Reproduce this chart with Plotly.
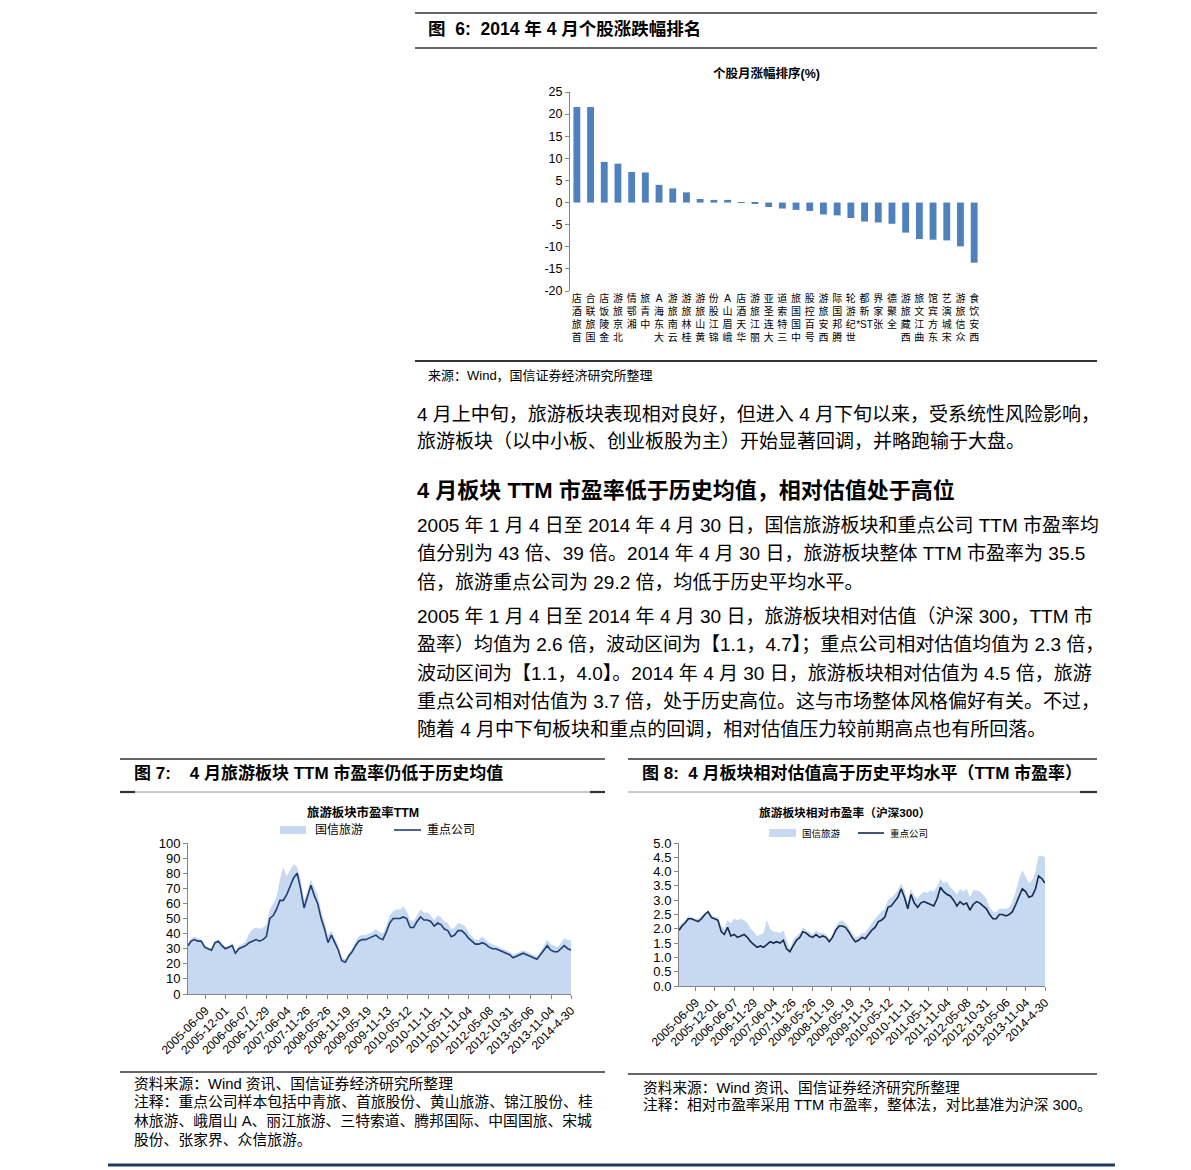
import re
import pandas as pd
import plotly.graph_objects as go

W, H = 1191, 1170
FONT = "Liberation Sans, Noto Sans CJK SC, sans-serif"


def fx(x):
    return x / W


def fy(y):
    return 1 - y / H


# ---------------- data: Figure 6 (bar) ----------------
stock_names = ["首旅酒店", "国旅联合", "金陵饭店", "北京旅游", "湘鄂情", "中青旅", "大东海A",
               "云南旅游", "桂林旅游", "黄山旅游", "锦江股份", "峨眉山A", "华天酒店", "丽江旅游",
               "大连圣亚", "三特索道", "中国国旅", "号百控股", "西安旅游", "腾邦国际", "世纪游轮",
               "*ST新都", "张家界", "全聚德", "西藏旅游", "曲江文旅", "东方宾馆", "宋城演艺",
               "众信旅游", "西安饮食"]
monthly_change = [21.6, 21.6, 9.2, 8.8, 6.9, 6.8, 4.0, 3.2, 2.3, 0.8, 0.6, 0.6, 0.05, -0.2,
                  -1.0, -1.35, -1.65, -1.9, -2.7, -2.9, -3.5, -4.3, -4.5, -4.8, -6.8, -8.25,
                  -8.4, -8.55, -9.9, -13.6]
bar_ticks = [25, 20, 15, 10, 5, 0, -5, -10, -15, -20]
bar_range = [-20, 25]

# ---------------- data: Figures 7 & 8 (time series) ----------------
dates = (["2005-01-04"]
         + [d.strftime("%Y-%m-%d") for d in pd.date_range("2005-02-01", "2014-04-01", freq="MS")]
         + ["2014-04-30"])

pe_sector = [34, 37, 38, 37, 36, 33, 31, 30, 35, 36, 34, 31,
             32, 34, 28, 32, 33, 35, 40, 43, 44, 43, 44, 46,
             56, 60, 64, 76, 84, 78, 82, 86, 84, 76, 62, 68,
             76, 70, 66, 55, 48, 39, 42, 37, 32, 24, 23, 27,
             30, 35, 38, 39, 39, 40, 41, 43, 41, 40, 45, 52,
             55, 56, 56, 58, 55, 49, 48, 52, 56, 54, 54, 52,
             49, 52, 51, 48, 47, 43, 44, 47, 46, 45, 41, 38,
             36, 36, 38, 36, 34, 33, 32, 31, 30, 29, 28, 26,
             27, 28, 29, 28, 27, 26, 25, 28, 32, 36, 33, 32,
             31, 34, 37, 36, 35.5]
pe_key = [32, 35, 36, 35, 35, 31, 30, 29, 34, 35, 32, 30,
          31, 32, 27, 30, 31, 32, 34, 35, 36, 35, 36, 38,
          50, 52, 56, 62, 62, 66, 72, 77, 80, 70, 57, 65,
          72, 65, 60, 50, 43, 34, 39, 34, 29, 22, 21, 25,
          28, 32, 35, 36, 36, 37, 38, 39, 37, 36, 41, 47,
          50, 50, 50, 51, 50, 44, 44, 48, 51, 49, 49, 48,
          45, 47, 46, 43, 42, 38, 39, 42, 42, 40, 37, 35,
          33, 33, 34, 33, 31, 30, 30, 29, 28, 27, 26, 24,
          25, 26, 27, 26, 25, 24, 23, 26, 29, 32, 29, 28,
          28, 30, 32, 30, 29.2]

rel_sector = [2.1, 2.2, 2.3, 2.45, 2.4, 2.35, 2.35, 2.45, 2.55, 2.65, 2.5, 2.4,
              2.4, 2.1, 2.0, 2.3, 2.2, 2.35, 2.3, 2.35, 2.3, 2.2, 2.0, 1.9,
              1.75, 1.8, 1.85, 2.3, 2.0, 1.9, 1.9, 1.85, 1.95, 1.6, 1.3, 1.6,
              1.75, 1.85, 2.05, 1.95, 1.9, 1.8, 1.95, 1.85, 1.85, 1.8, 1.65, 1.8,
              2.1, 2.25, 2.3, 2.2, 2.05, 1.85, 1.7, 1.75, 1.85, 1.85, 2.05, 2.2,
              2.35, 2.5, 2.6, 2.7, 3.0, 3.1, 3.2, 3.35, 3.6, 3.35, 2.95, 3.4,
              3.15, 3.05, 3.2, 3.3, 3.25, 3.35, 3.3, 3.5, 3.75, 3.6, 3.65, 3.45,
              3.35, 3.2, 3.4, 3.3, 3.4, 3.1, 3.35, 3.35, 3.3, 3.2, 3.05, 2.75,
              2.6, 2.6, 2.7, 2.7, 2.7, 2.75, 2.95, 3.3, 3.75, 4.05, 3.8, 3.6,
              3.7, 4.0, 4.55, 4.55, 4.5]
rel_key = [1.95, 2.1, 2.2, 2.35, 2.35, 2.3, 2.25, 2.35, 2.5, 2.6, 2.4, 2.35,
           2.3, 1.9, 1.8, 2.05, 1.75, 1.8, 1.7, 1.75, 1.8, 1.7, 1.55, 1.45,
           1.35, 1.4, 1.35, 1.45, 1.55, 1.5, 1.55, 1.5, 1.6, 1.3, 1.2, 1.4,
           1.6, 1.7, 1.9, 1.85, 1.75, 1.7, 1.8, 1.7, 1.75, 1.7, 1.55, 1.7,
           1.95, 2.1, 2.1, 2.05, 1.9, 1.7, 1.55, 1.6, 1.7, 1.65, 1.8, 1.95,
           2.05, 2.25, 2.3, 2.4, 2.75, 2.8, 2.95, 3.1, 3.4, 3.1, 2.7, 3.2,
           2.9, 2.75, 2.9, 2.95, 2.9, 2.85, 2.8, 3.05, 3.45, 3.3, 3.2, 3.15,
           3.0, 2.8, 2.95, 2.85, 2.9, 2.65, 2.85, 2.95, 2.9, 2.8, 2.7, 2.5,
           2.35, 2.35, 2.5, 2.5, 2.45, 2.5, 2.6, 2.85, 3.1, 3.4, 3.3, 3.1,
           3.15, 3.4, 3.85, 3.75, 3.6]

tick_dates = ["2005-06-09", "2005-12-01", "2006-06-07", "2006-11-29", "2007-06-04",
              "2007-11-26", "2008-05-26", "2008-11-19", "2009-05-19", "2009-11-13",
              "2010-05-12", "2010-11-11", "2011-05-11", "2011-11-04", "2012-05-08",
              "2012-10-31", "2013-05-06", "2013-11-04", "2014-04-30"]
tick_labels = tick_dates[:-1] + ["2014-4-30"]

series_names = ["国信旅游", "重点公司"]

# ---------------- text ----------------
para1 = ["4 月上中旬，旅游板块表现相对良好，但进入 4 月下旬以来，受系统性风险影响，",
         "旅游板块（以中小板、创业板股为主）开始显著回调，并略跑输于大盘。"]
heading = "4 月板块 TTM 市盈率低于历史均值，相对估值处于高位"
para2 = ["2005 年 1 月 4 日至 2014 年 4 月 30 日，国信旅游板块和重点公司 TTM 市盈率均",
         "值分别为 43 倍、39 倍。2014 年 4 月 30 日，旅游板块整体 TTM 市盈率为 35.5",
         "倍，旅游重点公司为 29.2 倍，均低于历史平均水平。"]
para3 = ["2005 年 1 月 4 日至 2014 年 4 月 30 日，旅游板块相对估值（沪深 300，TTM 市",
         "盈率）均值为 2.6 倍，波动区间为【1.1，4.7】；重点公司相对估值均值为 2.3 倍，",
         "波动区间为【1.1，4.0】。2014 年 4 月 30 日，旅游板块相对估值为 4.5 倍，旅游",
         "重点公司相对估值为 3.7 倍，处于历史高位。这与市场整体风格偏好有关。不过，",
         "随着 4 月中下旬板块和重点的回调，相对估值压力较前期高点也有所回落。"]
notes7 = ["资料来源：Wind 资讯、国信证券经济研究所整理",
          "注释：重点公司样本包括中青旅、首旅股份、黄山旅游、锦江股份、桂",
          "林旅游、峨眉山 A、丽江旅游、三特索道、腾邦国际、中国国旅、宋城",
          "股份、张家界、众信旅游。"]
notes8 = ["资料来源：Wind 资讯、国信证券经济研究所整理",
          "注释：相对市盈率采用 TTM 市盈率，整体法，对比基准为沪深 300。"]

BAR_BLUE = "#4f81bd"
AREA_BLUE = "#c6d9f1"
LINE7 = "#1f3f73"
LINE8 = "#142a4c"
AXIS = "#868686"


def stack(name):
    tokens = re.findall(r"[A-Za-z*]+|.", name)
    return "<br>".join(reversed(tokens))


fig = go.Figure()

fig.add_trace(go.Bar(x=list(range(len(stock_names))), y=monthly_change,
                     marker=dict(color=BAR_BLUE, line=dict(width=0)),
                     xaxis="x", yaxis="y", showlegend=False, width=0.5))

fig.add_trace(go.Scatter(x=dates, y=pe_sector, mode="lines", fill="tozeroy",
                         line=dict(width=0, color=AREA_BLUE), fillcolor=AREA_BLUE,
                         name=series_names[0], xaxis="x2", yaxis="y2", showlegend=False))
fig.add_trace(go.Scatter(x=dates, y=pe_key, mode="lines",
                         line=dict(width=1.6, color=LINE7),
                         name=series_names[1], xaxis="x2", yaxis="y2", showlegend=False))

fig.add_trace(go.Scatter(x=dates, y=rel_sector, mode="lines", fill="tozeroy",
                         line=dict(width=0, color=AREA_BLUE), fillcolor=AREA_BLUE,
                         name=series_names[0], xaxis="x3", yaxis="y3", showlegend=False))
fig.add_trace(go.Scatter(x=dates, y=rel_key, mode="lines",
                         line=dict(width=1.6, color=LINE8),
                         name=series_names[1], xaxis="x3", yaxis="y3", showlegend=False))

axis_common = dict(showgrid=False, zeroline=False, showline=True, linecolor=AXIS,
                   linewidth=1, ticks="outside", ticklen=4, tickcolor=AXIS, automargin=False,
                   tickfont=dict(family=FONT, size=13, color="#000"))

bar_dom = [fy(291), fy(92)]
zero_pos = bar_dom[0] + (0 - bar_range[0]) / (bar_range[1] - bar_range[0]) * (bar_dom[1] - bar_dom[0])
cat_range = [-0.5, len(stock_names) - 0.5]

fig.update_layout(
    width=W, height=H, autosize=False,
    margin=dict(l=0, r=0, t=0, b=0, pad=0, autoexpand=False),
    paper_bgcolor="white", plot_bgcolor="rgba(0,0,0,0)",
    xaxis=dict(domain=[fx(570), fx(981)], range=cat_range,
               tickmode="array", tickvals=list(range(len(stock_names))),
               ticktext=[stack(n) for n in stock_names], showgrid=False, zeroline=False,
               showline=False, ticks="", tickangle=0, automargin=False,
               tickfont=dict(family=FONT, size=10, color="#000"), anchor="y"),
    xaxis4=dict(domain=[fx(570), fx(981)], range=cat_range, overlaying="x", anchor="free",
                position=zero_pos, tickmode="array",
                tickvals=[i - 0.5 for i in range(len(stock_names) + 1)],
                showticklabels=False, showgrid=False, zeroline=False, showline=True,
                linecolor=AXIS, ticks="outside", ticklen=4, tickcolor=AXIS, automargin=False),
    yaxis=dict(domain=bar_dom, range=bar_range, anchor="x",
               tickmode="array", tickvals=bar_ticks, ticktext=[str(v) for v in bar_ticks],
               **{**axis_common, "tickfont": dict(family=FONT, size=12.5, color="#000")}),
    xaxis2=dict(domain=[fx(188), fx(571)], range=["2005-01-04", "2014-04-30"], type="date",
                tickmode="array", tickvals=tick_dates, ticktext=tick_labels, tickangle=-45,
                anchor="y2", **{**axis_common, "tickfont": dict(family=FONT, size=12, color="#000")}),
    yaxis2=dict(domain=[fy(994), fy(843)], range=[0, 100], dtick=10, anchor="x2", **axis_common),
    xaxis3=dict(domain=[fx(679), fx(1045)], range=["2005-01-04", "2014-04-30"], type="date",
                tickmode="array", tickvals=tick_dates, ticktext=tick_labels, tickangle=-45,
                anchor="y3", **{**axis_common, "tickfont": dict(family=FONT, size=12, color="#000")}),
    yaxis3=dict(domain=[fy(986), fy(843)], range=[0, 5], dtick=0.5, tickformat=".1f",
                anchor="x3", **axis_common),
)

ann = []


def text(x, y, s, size, bold=False, anchor="left", color="#000"):
    if bold:
        s = "<b>" + s + "</b>"
    ann.append(dict(x=fx(x), y=fy(y), xref="paper", yref="paper", text=s, showarrow=False,
                    xanchor=anchor, yanchor="middle",
                    font=dict(family=FONT, size=size, color=color)))


text(426, 29, "图  6:  2014 年 4 月个股涨跌幅排名", 17.5, bold=True)
text(766, 73, "个股月涨幅排序(%)", 12.5, bold=True, anchor="center")
text(426, 376, "来源：Wind，国信证券经济研究所整理", 13)
for i, s in enumerate(para1):
    text(415, 414 + 27.5 * i, s, 19)
text(415, 490, heading, 22, bold=True)
for y, s in zip([525, 553, 582], para2):
    text(415, y, s, 19)
for y, s in zip([616, 644, 673, 701, 729], para3):
    text(415, y, s, 19)

text(132, 773, "图 7:    4 月旅游板块 TTM 市盈率仍低于历史均值", 17, bold=True)
text(640, 773, "图 8:  4 月板块相对估值高于历史平均水平（TTM 市盈率）", 17, bold=True)

text(363, 812, "旅游板块市盈率TTM", 12.4, bold=True, anchor="center")
text(313, 830, series_names[0], 12)
text(425, 830, series_names[1], 12)
text(844, 812, "旅游板块相对市盈率（沪深300）", 11.7, bold=True, anchor="center")
text(800, 833, series_names[0], 9.5)
text(888, 833, series_names[1], 9.5)

for y, s in zip([1084, 1102, 1121, 1140], notes7):
    text(132, y, s, 14.8)
for y, s in zip([1088, 1105], notes8):
    text(641, y, s, 14.7)

shapes = []


def hline(x0, x1, y, width=1.0, color="#333"):
    shapes.append(dict(type="line", xref="paper", yref="paper", x0=fx(x0), x1=fx(x1),
                       y0=fy(y), y1=fy(y), line=dict(color=color, width=width)))


def rect(x0, x1, y0, y1, color):
    shapes.append(dict(type="rect", xref="paper", yref="paper", x0=fx(x0), x1=fx(x1),
                       y0=fy(y0), y1=fy(y1), line=dict(width=0), fillcolor=color))


hline(415, 1097, 13, 1.5)
hline(415, 1097, 48, 1.5)
hline(415, 1097, 361, 2)
hline(120, 605, 759, 1.5)
hline(628, 1097, 759, 1.5)
hline(120, 605, 792, 0.8, "#777")
hline(120, 135, 792, 2.2)
hline(590, 605, 792, 2.2)
hline(628, 1097, 792, 0.8, "#777")
hline(1080, 1097, 792, 2.2)
hline(120, 605, 1072, 1.5)
hline(628, 1097, 1074, 1.5)
hline(108, 1115, 1165, 3, "#1f3763")

# legend swatches
rect(280, 306, 826, 834, AREA_BLUE)
hline(394, 421, 830, 1.6, LINE7)
rect(769, 796, 829, 837, AREA_BLUE)
hline(858, 884, 833, 1.6, LINE8)

fig.update_layout(annotations=ann, shapes=shapes)

fig.write_html("out.html", config={"displayModeBar": False, "responsive": False},
               post_script="document.body.style.margin='0';")
